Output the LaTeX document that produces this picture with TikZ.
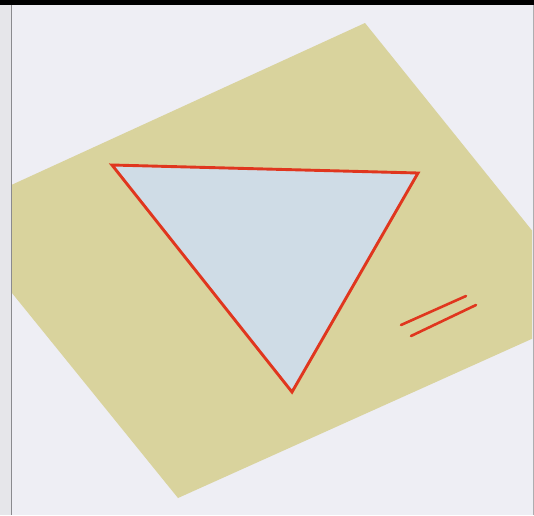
\documentclass[tikz,border=0pt]{standalone}
\definecolor{bg}{HTML}{EEEEF4}
\definecolor{margin}{HTML}{E6E6EA}
\definecolor{khaki}{HTML}{D9D39D}
\definecolor{paleblue}{HTML}{CFDCE6}
\definecolor{redline}{HTML}{E0361E}
\definecolor{borderline}{HTML}{8A8A8E}
\tikzset{
  redstroke/.style={draw=redline, line width=2.9pt, line join=miter},
  equalstroke/.style={draw=redline, line width=2.6pt, line cap=round},
}
\begin{document}
\begin{tikzpicture}[x=1pt,y=-1pt]
  \useasboundingbox (0,0) rectangle (534,515);
  % background
  \fill[bg] (0,0) rectangle (534,515);
  \fill[margin] (0,0) rectangle (11,515);
  % khaki parallelogram, clipped to the panel
  \begin{scope}
    \clip (12,5) rectangle (532,515);
    \fill[khaki] (365,23) -- (596,310) -- (178,498) -- (-52,214) -- cycle;
  \end{scope}
  % triangle
  \coordinate (A) at (112,165);
  \coordinate (B) at (418,173);
  \coordinate (C) at (292,392);
  \filldraw[fill=paleblue, redstroke] (A) -- (B) -- (C) -- cycle;
  % equal sign
  \coordinate (e1a) at (401,325);
  \coordinate (e1b) at (466,296);
  \coordinate (e2a) at (411,336);
  \coordinate (e2b) at (476,305);
  \draw[equalstroke] (e1a) -- (e1b);
  \draw[equalstroke] (e2a) -- (e2b);
  % borders
  \draw[borderline, line width=1.2pt] (11.5,5) -- (11.5,515);
  \draw[borderline!70, line width=1pt] (533,5) -- (533,515);
  \fill[black] (0,0) rectangle (534,5);
\end{tikzpicture}
\end{document}
